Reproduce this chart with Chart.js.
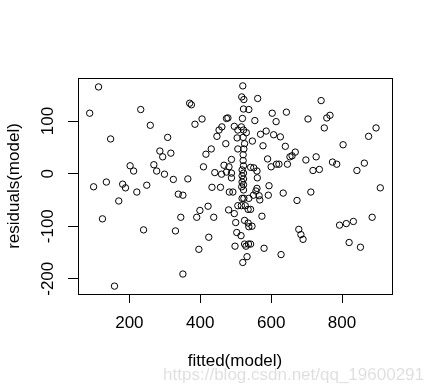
<!DOCTYPE html>
<html>
<head>
<meta charset="utf-8">
<script src="https://cdn.jsdelivr.net/npm/chart.js@4"></script>
<style>
  html, body { margin: 0; padding: 0; background: #fff; }
  #wrap { width: 432px; height: 392px; }
</style>
</head>
<body>
<div id="wrap"><canvas id="grafico"></canvas></div>
<script>
// valores (fitted vs residuals)
const fittedValues = [
  113, 88, 232, 259, 147, 308, 286, 294, 317, 202, 212, 269, 277, 299, 324, 135, 99, 181, 189, 249,
  221, 170, 124, 240, 330, 338, 351, 345, 351, 158, 365, 370, 375, 385, 405, 409, 416, 431, 441, 460,
  467, 433, 457, 447, 453, 461, 474, 478, 472, 488, 474, 488, 488, 496, 506, 504, 506, 396, 390, 399,
  422, 438, 424, 480, 496, 482, 492, 500, 503, 515, 498, 506, 516, 520, 517, 523, 522, 519, 516, 522,
  530, 521, 525, 523, 521, 521, 522, 518, 522, 518, 522, 518, 522, 517, 522, 518, 523, 527, 525, 525,
  529, 520, 532, 537, 562, 603, 643, 554, 614, 586, 570, 607, 626, 547, 577, 640, 590, 542, 551, 560,
  600, 615, 622, 646, 561, 594, 560, 537, 550, 557, 568, 566, 592, 634, 535, 542, 574, 535, 537, 546,
  536, 542, 580, 628, 741, 704, 757, 766, 750, 896, 875, 803, 668, 659, 653, 698, 727, 718, 736, 773,
  785, 842, 863, 908, 673, 712, 885, 678, 684, 690, 793, 812, 832, 820, 852, 481
];
const residualValues = [
  165, 115, 122, 92, 66, 69, 43, 32, 39, 15, 5, 17, 5, -1, -11, -16, -25, -20, -27, -22,
  -35, -52, -86, -107, -109, -39, -41, -83, -191, -214, -10, 134, 131, 94, 104, 13, 37, 47, 2, -1,
  16, -26, -26, 71, 83, 89, 105, 106, 57, 27, 3, 1, -8, 90, 83, 68, 47, -144, -83, -70,
  -62, -83, -121, -69, -76, -35, -35, -93, -112, -118, -138, -61, -61, 167, 146, 141, 123, 105, 89, 83,
  78, 69, 57, 47, 36, 25, 15, 7, 1, -4, -10, -16, -21, -25, -31, -47, -47, -61, -89, -134,
  -138, -169, -158, 122, 143, 115, 117, 101, 99, 81, 75, 74, 70, 62, 53, 52, 28, 12, 11, 5,
  13, 18, 18, 18, -8, -23, -28, -47, -41, -33, -50, -42, -41, -37, -68, -68, -81, -94, -101, -100,
  -134, -134, -142, -154, 139, 104, 106, 111, 87, 87, 71, 55, 41, 34, 32, 26, 32, 6, 8, 22,
  18, 6, 20, -27, -51, -35, -83, -106, -116, -125, -98, -95, -91, -131, -140, 13
];
const xTicks = [200, 400, 600, 800];
const yTicks = [-200, -100, 0, 100];
const xTitulo = 'fitted(model)';
const yTitulo = 'residuals(model)';
const marcaDagua = 'https://blog.csdn.net/qq_19600291';

const fonte = { family: '"Liberation Sans", Arial, sans-serif', size: 17 };

const pontos = fittedValues.map((x, i) => ({ x: x, y: residualValues[i] }));

// caixa em volta da área do gráfico + marca d'água
const caixa = {
  id: 'caixa',
  afterDraw(chart) {
    const { ctx, chartArea: a } = chart;
    ctx.save();
    ctx.strokeStyle = '#000';
    ctx.lineWidth = 1;
    ctx.strokeRect(a.left + 0.5, a.top + 0.5, a.right - a.left, a.bottom - a.top);
    ctx.fillStyle = 'rgba(0,0,0,0.13)';
    ctx.font = '17px "Liberation Sans", Arial, sans-serif';
    ctx.textAlign = 'right';
    ctx.textBaseline = 'middle';
    ctx.fillText(marcaDagua, 424, 375);
    ctx.restore();
  }
};

new Chart(document.getElementById('grafico').getContext('2d'), {
  type: 'scatter',
  data: {
    datasets: [{
      data: pontos,
      pointStyle: 'circle',
      pointRadius: 3.2,
      pointHoverRadius: 3.2,
      borderColor: '#000',
      backgroundColor: 'rgba(0,0,0,0)',
      borderWidth: 1
    }]
  },
  options: {
    responsive: true,
    maintainAspectRatio: false,
    animation: false,
    layout: { padding: { top: 78, right: 40, left: 0, bottom: 0 } },
    plugins: { legend: { display: false }, tooltip: { enabled: false } },
    scales: {
      x: {
        type: 'linear',
        min: 55,
        max: 941,
        afterBuildTicks: s => { s.ticks = xTicks.map(v => ({ value: v })); },
        afterFit: s => { s.height = 98; },
        ticks: { font: fonte, color: '#000', padding: 10, maxRotation: 0, autoSkip: false },
        grid: { drawOnChartArea: false, drawTicks: true, tickLength: 9, color: '#000' },
        border: { display: false },
        title: { display: true, text: xTitulo, font: fonte, color: '#000', padding: { top: 0, bottom: 20 } }
      },
      y: {
        type: 'linear',
        min: -229,
        max: 182,
        afterBuildTicks: s => { s.ticks = yTicks.map(v => ({ value: v })); },
        afterFit: s => { s.width = 78; },
        ticks: { font: fonte, color: '#000', padding: 3, minRotation: 90, maxRotation: 90, crossAlign: 'center', autoSkip: false },
        grid: { drawOnChartArea: false, drawTicks: true, tickLength: 10, color: '#000' },
        border: { display: false },
        title: { display: true, text: yTitulo, font: fonte, color: '#000', padding: { top: 4, bottom: 0 } }
      }
    }
  },
  plugins: [caixa]
});
</script>
</body>
</html>
